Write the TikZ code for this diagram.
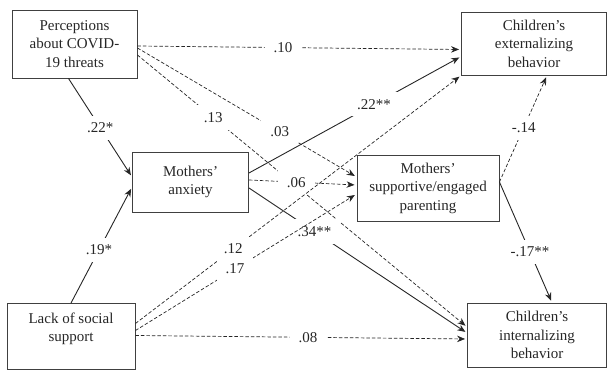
\documentclass[tikz,border=0pt]{standalone}
\usepackage{fontspec}
\setmainfont{Liberation Serif}
\usetikzlibrary{arrows.meta, positioning}
\tikzstyle{varbox} = [rectangle, draw=black!75, line width=0.9pt, text=black!85, text centered, align=center, font=\fontsize{15}{18.5}\selectfont]
\tikzstyle{coef} = [fill=white, text=black!85, inner xsep=9pt, inner ysep=7pt, font=\fontsize{15}{17}\selectfont]
\tikzstyle{arrow} = [-{Stealth[length=8pt, width=6.5pt]}, shorten >=2pt, line width=0.9pt, black!85]
\tikzstyle{nsarrow} = [arrow, line width=0.7pt, dash pattern=on 3.5pt off 2pt]

\begin{document}
\begin{tikzpicture}[x=1pt, y=-1pt]
  \useasboundingbox (0,0) rectangle (608,371);
  %variables
  \node (perc) [varbox, minimum width=125pt, minimum height=68pt] at (74.5,44) {Perceptions\\ about COVID-\\ 19 threats};
  \node (anx) [varbox, minimum width=116pt, minimum height=60pt] at (190.5,182) {Mothers'\\ anxiety};
  \node (lack) [varbox, minimum width=128pt, minimum height=66pt] at (71,336.5) {Lack of social\\ support\\ ~};
  \node (sup) [varbox, minimum width=142pt, minimum height=66pt] at (428,188) {Mothers'\\ supportive/engaged\\ parenting};
  \node (ext) [varbox, minimum width=145pt, minimum height=63pt] at (534,43.5) {Children's\\ externalizing\\ behavior};
  \node (int) [varbox, minimum width=139pt, minimum height=64pt] at (537,335) {Children's\\ internalizing\\ behavior};

  %paths
  \draw [nsarrow] ([yshift=-2pt]perc.east) -- node[coef, pos=.45] {.10} ([yshift=-6pt]ext.west);
  \draw [nsarrow] ([yshift=-4pt]perc.east) -- node[coef, pos=.65] {.03} ([yshift=11pt]sup.west);
  \draw [nsarrow] ([yshift=-11pt]perc.east) -- node[coef, pos=.23] {.13} ([yshift=8pt]int.west);
  \draw [arrow] ([yshift=9pt]anx.east) -- node[coef, pos=.59] {.22**} ([yshift=-13pt]ext.west);
  \draw [nsarrow] ([yshift=2pt]anx.east) -- node[coef, pos=.44] {.06} ([yshift=3pt]sup.west);
  \draw [arrow] ([yshift=-6pt]anx.east) -- node[coef, pos=.3] {.34**} ([yshift=2pt]int.west);
  \draw [nsarrow] ([yshift=13pt]lack.east) -- node[coef, pos=.3] {.12} (ext.south west);
  \draw [nsarrow] ([yshift=6pt]lack.east) -- node[coef, pos=.45] {.17} ([yshift=-6pt]sup.west);
  \draw [nsarrow] ([yshift=1pt]lack.east) -- node[coef, pos=.52] {.08} ([yshift=-4pt]int.west);
  \draw [nsarrow] ([yshift=6pt]sup.east) -- node[coef, pos=.51] {-.14} ([xshift=13pt]ext.south);
  \draw [arrow] ([yshift=6pt]sup.east) -- node[coef, pos=.58] {-.17**} ([xshift=15pt]int.north);
  \draw [arrow] ([xshift=-6pt]perc.south) -- node[coef, pos=.5] {.22*} ([yshift=5pt]anx.west);
  \draw [arrow] (lack.north) -- node[coef, pos=.46] {.19*} ([yshift=-5pt]anx.west);
\end{tikzpicture}
\end{document}
